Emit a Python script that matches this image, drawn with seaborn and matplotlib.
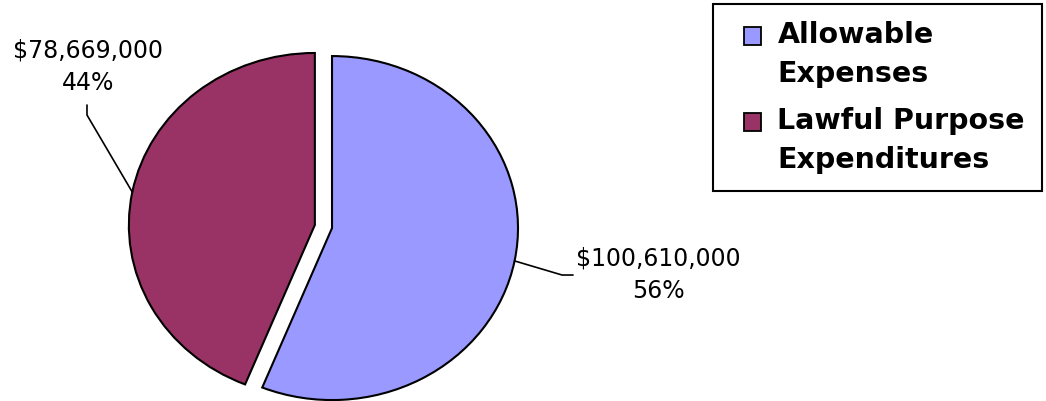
import matplotlib
matplotlib.use("Agg")
import numpy as np
import matplotlib.pyplot as plt
import seaborn as sns
from matplotlib.patches import Rectangle, Wedge
from matplotlib.legend_handler import HandlerPatch

# Data
categories = ["Allowable\nExpenses", "Lawful Purpose\nExpenditures"]
amounts = [100610000, 78669000]
colors = ["#9999FF", "#993366"]

sns.set_style("white")
plt.rcParams['font.family'] = ['DejaVu Sans']
plt.rcParams['text.color'] = 'black'


# legend square sits next to the first line of a two-line label
class TopHandle(HandlerPatch):
    def create_artists(self, legend, orig_handle, xdescent, ydescent,
                       width, height, fontsize, trans):
        size = 0.63 * fontsize
        p = Rectangle((-xdescent + 0.46 * fontsize, -ydescent + 0.65 * fontsize),
                      size, size,
                      facecolor=orig_handle.get_facecolor(), edgecolor='black',
                      linewidth=1.3, transform=trans)
        return [p]


fig = plt.figure(figsize=(10.46, 4.01), dpi=100)
ax = fig.add_axes([0, 0, 1, 1])

wedges, _ = ax.pie(amounts, colors=colors, startangle=90, counterclock=False,
                   explode=[0.047, 0.047],
                   wedgeprops=dict(edgecolor='black', linewidth=1.5))
ax.set_aspect('auto')
ax.set_xlim(-1.739, 3.885)
ax.set_ylim(-1.0145, 1.317)
ax.axis('off')

# value / percent labels with leader lines from the wedge middle
total = sum(amounts)
leaders = [[(1.283, -0.282), (1.342, -0.282)],
           [(-1.2713, 0.6483), (-1.2713, 0.7064)]]
text_pos = [(1.799, -0.282, 'center'), (-1.266, 0.7645, 'bottom')]
for w, amt, pts, (tx, ty, va) in zip(wedges, amounts, leaders, text_pos):
    ang = np.deg2rad((w.theta1 + w.theta2) / 2)
    cx, cy = w.center
    xs = [cx + np.cos(ang) * w.r] + [p[0] for p in pts]
    ys = [cy + np.sin(ang) * w.r] + [p[1] for p in pts]
    ax.plot(xs, ys, color='black', linewidth=1.2)
    pct = round(100 * amt / total)
    ax.text(tx, ty, "\\$" + f"{amt:,}\n{pct}%", ha='center', va=va,
            fontsize=17, linespacing=1.45, multialignment='center',
            color='black')

leg = fig.legend(wedges, categories, loc='upper right',
                 bbox_to_anchor=(1042 / 1046, 1 - 4 / 401),
                 handler_map={Wedge: TopHandle()},
                 prop=dict(weight='bold', size=20.5),
                 frameon=True, fancybox=False, framealpha=1, edgecolor='black',
                 borderpad=0.6, handlelength=1.26, handleheight=0.52,
                 handletextpad=0.39, labelspacing=0.68, borderaxespad=0)
leg.get_frame().set_linewidth(1.5)
for t in leg.get_texts():
    t.set_linespacing(1.48)
    t.set_color('black')

fig.savefig("out.png", dpi=100)
